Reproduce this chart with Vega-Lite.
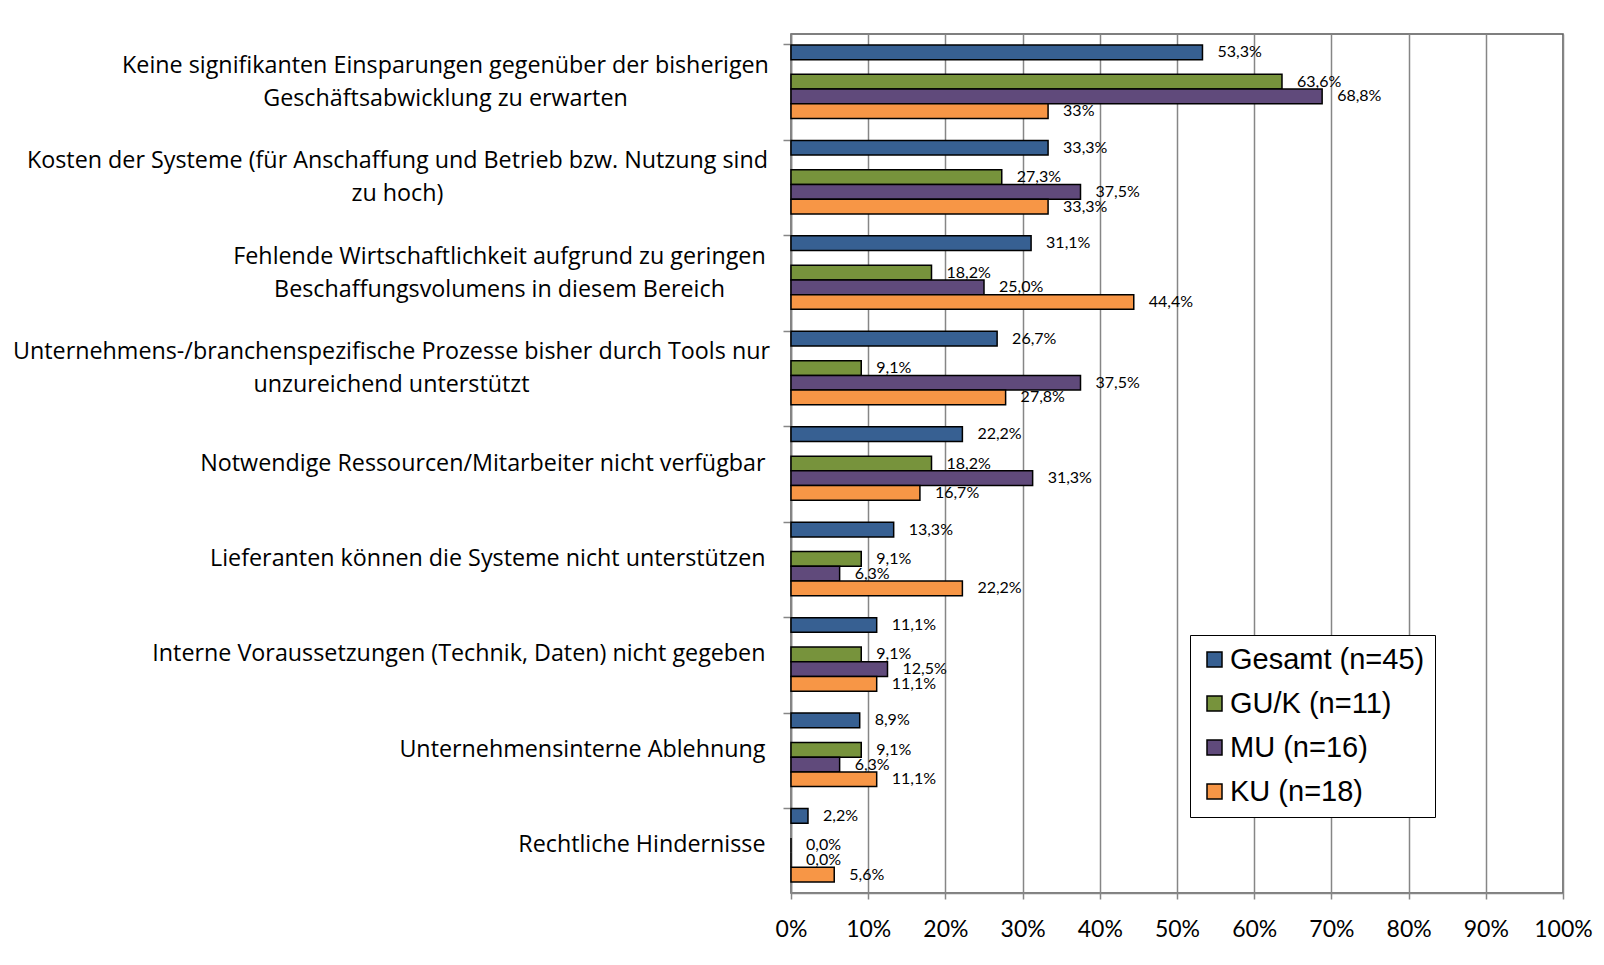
{
  "$schema": "https://vega.github.io/schema/vega-lite/v6.json",
  "autosize": {"type": "none"},
  "padding": {"left": 791, "top": 34, "right": 41, "bottom": 72},
  "width": 772,
  "height": 859,
  "background": "white",
  "datasets": {
    "bars": [
      {"cat": "Keine signifikanten Einsparungen gegenüber der bisherigen\nGeschäftsabwicklung zu erwarten", "series": "Gesamt (n=45)", "value": 53.3, "label": "53,3%"},
      {"cat": "Keine signifikanten Einsparungen gegenüber der bisherigen\nGeschäftsabwicklung zu erwarten", "series": "GU/K (n=11)", "value": 63.6, "label": "63,6%"},
      {"cat": "Keine signifikanten Einsparungen gegenüber der bisherigen\nGeschäftsabwicklung zu erwarten", "series": "MU (n=16)", "value": 68.8, "label": "68,8%"},
      {"cat": "Keine signifikanten Einsparungen gegenüber der bisherigen\nGeschäftsabwicklung zu erwarten", "series": "KU (n=18)", "value": 33.3, "label": "33%"},
      {"cat": "Kosten der Systeme (für Anschaffung und Betrieb bzw. Nutzung sind\nzu hoch)", "series": "Gesamt (n=45)", "value": 33.3, "label": "33,3%"},
      {"cat": "Kosten der Systeme (für Anschaffung und Betrieb bzw. Nutzung sind\nzu hoch)", "series": "GU/K (n=11)", "value": 27.3, "label": "27,3%"},
      {"cat": "Kosten der Systeme (für Anschaffung und Betrieb bzw. Nutzung sind\nzu hoch)", "series": "MU (n=16)", "value": 37.5, "label": "37,5%"},
      {"cat": "Kosten der Systeme (für Anschaffung und Betrieb bzw. Nutzung sind\nzu hoch)", "series": "KU (n=18)", "value": 33.3, "label": "33,3%"},
      {"cat": "Fehlende Wirtschaftlichkeit aufgrund zu geringen\nBeschaffungsvolumens in diesem Bereich", "series": "Gesamt (n=45)", "value": 31.1, "label": "31,1%"},
      {"cat": "Fehlende Wirtschaftlichkeit aufgrund zu geringen\nBeschaffungsvolumens in diesem Bereich", "series": "GU/K (n=11)", "value": 18.2, "label": "18,2%"},
      {"cat": "Fehlende Wirtschaftlichkeit aufgrund zu geringen\nBeschaffungsvolumens in diesem Bereich", "series": "MU (n=16)", "value": 25.0, "label": "25,0%"},
      {"cat": "Fehlende Wirtschaftlichkeit aufgrund zu geringen\nBeschaffungsvolumens in diesem Bereich", "series": "KU (n=18)", "value": 44.4, "label": "44,4%"},
      {"cat": "Unternehmens-/branchenspezifische Prozesse bisher durch Tools nur\nunzureichend unterstützt", "series": "Gesamt (n=45)", "value": 26.7, "label": "26,7%"},
      {"cat": "Unternehmens-/branchenspezifische Prozesse bisher durch Tools nur\nunzureichend unterstützt", "series": "GU/K (n=11)", "value": 9.1, "label": "9,1%"},
      {"cat": "Unternehmens-/branchenspezifische Prozesse bisher durch Tools nur\nunzureichend unterstützt", "series": "MU (n=16)", "value": 37.5, "label": "37,5%"},
      {"cat": "Unternehmens-/branchenspezifische Prozesse bisher durch Tools nur\nunzureichend unterstützt", "series": "KU (n=18)", "value": 27.8, "label": "27,8%"},
      {"cat": "Notwendige Ressourcen/Mitarbeiter nicht verfügbar", "series": "Gesamt (n=45)", "value": 22.2, "label": "22,2%"},
      {"cat": "Notwendige Ressourcen/Mitarbeiter nicht verfügbar", "series": "GU/K (n=11)", "value": 18.2, "label": "18,2%"},
      {"cat": "Notwendige Ressourcen/Mitarbeiter nicht verfügbar", "series": "MU (n=16)", "value": 31.3, "label": "31,3%"},
      {"cat": "Notwendige Ressourcen/Mitarbeiter nicht verfügbar", "series": "KU (n=18)", "value": 16.7, "label": "16,7%"},
      {"cat": "Lieferanten können die Systeme nicht unterstützen", "series": "Gesamt (n=45)", "value": 13.3, "label": "13,3%"},
      {"cat": "Lieferanten können die Systeme nicht unterstützen", "series": "GU/K (n=11)", "value": 9.1, "label": "9,1%"},
      {"cat": "Lieferanten können die Systeme nicht unterstützen", "series": "MU (n=16)", "value": 6.3, "label": "6,3%"},
      {"cat": "Lieferanten können die Systeme nicht unterstützen", "series": "KU (n=18)", "value": 22.2, "label": "22,2%"},
      {"cat": "Interne Voraussetzungen (Technik, Daten) nicht gegeben", "series": "Gesamt (n=45)", "value": 11.1, "label": "11,1%"},
      {"cat": "Interne Voraussetzungen (Technik, Daten) nicht gegeben", "series": "GU/K (n=11)", "value": 9.1, "label": "9,1%"},
      {"cat": "Interne Voraussetzungen (Technik, Daten) nicht gegeben", "series": "MU (n=16)", "value": 12.5, "label": "12,5%"},
      {"cat": "Interne Voraussetzungen (Technik, Daten) nicht gegeben", "series": "KU (n=18)", "value": 11.1, "label": "11,1%"},
      {"cat": "Unternehmensinterne Ablehnung", "series": "Gesamt (n=45)", "value": 8.9, "label": "8,9%"},
      {"cat": "Unternehmensinterne Ablehnung", "series": "GU/K (n=11)", "value": 9.1, "label": "9,1%"},
      {"cat": "Unternehmensinterne Ablehnung", "series": "MU (n=16)", "value": 6.3, "label": "6,3%"},
      {"cat": "Unternehmensinterne Ablehnung", "series": "KU (n=18)", "value": 11.1, "label": "11,1%"},
      {"cat": "Rechtliche Hindernisse", "series": "Gesamt (n=45)", "value": 2.2, "label": "2,2%"},
      {"cat": "Rechtliche Hindernisse", "series": "GU/K (n=11)", "value": 0.0, "label": "0,0%"},
      {"cat": "Rechtliche Hindernisse", "series": "MU (n=16)", "value": 0.0, "label": "0,0%"},
      {"cat": "Rechtliche Hindernisse", "series": "KU (n=18)", "value": 5.6, "label": "5,6%"}
    ]
  },
  "data": {"name": "bars"},
  "encoding": {
    "y": {
      "field": "cat",
      "type": "nominal",
      "sort": null,
      "title": null,
      "scale": {"paddingInner": 0.23, "paddingOuter": 0.115},
      "axis": {
        "labelExpr": "split(datum.label, '\\n')",
        "labelFont": "Open Sans",
        "labelFontSize": 23.3,
        "labelColor": "#000",
        "labelLineHeight": 33,
        "labelLimit": 900,
        "labelAlign": {"condition": {"test": "indexof(datum.value, '\\n') >= 0", "value": "center"}, "value": "right"},
        "labelOffset": {"condition": {"test": "indexof(datum.value, '\\n') >= 0", "value": -16}, "value": 0},
        "labelPadding": {"condition": [
          {"test": "indexof(datum.value, 'Keine') == 0", "value": 338},
          {"test": "indexof(datum.value, 'Kosten') == 0", "value": 386},
          {"test": "indexof(datum.value, 'Fehlende') == 0", "value": 284},
          {"test": "indexof(datum.value, 'Unternehmens-') == 0", "value": 392}
        ], "value": 18},
        "tickSize": 8,
        "tickColor": "#868686",
        "tickWidth": 1.5,
        "bandPosition": 0,
        "domainColor": "#868686",
        "domainWidth": 1.5,
        "grid": false
      }
    },
    "yOffset": {
      "field": "series",
      "type": "nominal",
      "scale": {"domain": ["Gesamt (n=45)", "_gap", "GU/K (n=11)", "MU (n=16)", "KU (n=18)"], "paddingInner": 0, "paddingOuter": 0}
    },
    "x": {
      "field": "value",
      "type": "quantitative",
      "title": null,
      "scale": {"domain": [0, 100], "nice": false},
      "axis": {
        "values": [0, 10, 20, 30, 40, 50, 60, 70, 80, 90, 100],
        "labelExpr": "datum.value + '%'",
        "labelFont": "Lato",
        "labelFontSize": 23,
        "labelColor": "#000",
        "labelPadding": 19,
        "labelOverlap": false,
        "labelFlush": false,
        "tickSize": 6,
        "tickColor": "#868686",
        "tickWidth": 1.5,
        "domainColor": "#868686",
        "domainWidth": 1.5,
        "grid": true,
        "gridColor": "#868686",
        "gridWidth": 1.5
      }
    }
  },
  "layer": [
    {
      "mark": {"type": "bar", "stroke": "#000", "strokeWidth": 1.5, "cornerRadius": 0},
      "encoding": {
        "color": {
          "field": "series",
          "type": "nominal",
          "scale": {
            "domain": ["Gesamt (n=45)", "GU/K (n=11)", "MU (n=16)", "KU (n=18)"],
            "range": ["#376092", "#77933C", "#604A7B", "#F79646"]
          },
          "legend": {
            "title": null,
            "orient": "none",
            "legendX": 399,
            "legendY": 601,
            "symbolType": "square",
            "symbolSize": 225,
            "symbolStrokeColor": "#000",
            "symbolStrokeWidth": 1.5,
            "symbolOpacity": 1,
            "labelFont": "Liberation Sans",
            "labelFontSize": 29,
            "labelColor": "#000",
            "labelLimit": 400,
            "labelOffset": 1,
            "rowPadding": 14,
            "padding": 10,
            "strokeColor": "#000",
            "fillColor": "#fff"
          }
        }
      }
    },
    {
      "mark": {"type": "text", "align": "left", "dx": 15, "font": "Lato", "fontSize": 16, "color": "#000"},
      "encoding": {
        "text": {"field": "label"}
      }
    }
  ],
  "config": {
    "view": {"stroke": "#555", "strokeWidth": 1.5}
  }
}
